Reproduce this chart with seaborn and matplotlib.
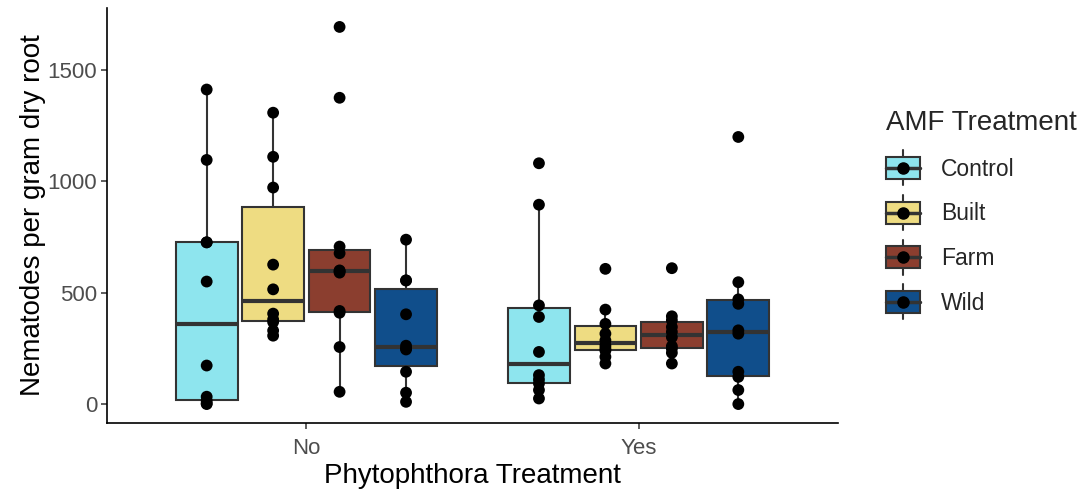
import matplotlib
matplotlib.use("Agg")
import matplotlib.pyplot as plt
import numpy as np
import pandas as pd
import seaborn as sns
from matplotlib.legend_handler import HandlerBase
from matplotlib.patches import Rectangle
from matplotlib.lines import Line2D

# nematode counts, one list per group
ctrl_no = [0, 3, 15, 33, 173, 550, 726, 726, 1096, 1412]
built_no = [307, 330, 368, 380, 406, 515, 626, 972, 1110, 1308]
farm_no = [55, 256, 410, 418, 590, 597, 600, 677, 707, 1375, 1693]
wild_no = [10, 51, 145, 245, 250, 262, 403, 555, 555, 738]
ctrl_yes = [25, 63, 92, 110, 130, 234, 391, 443, 895, 1081]
built_yes = [182, 212, 240, 249, 262, 286, 316, 360, 424, 607]
farm_yes = [182, 230, 249, 260, 300, 324, 346, 376, 394, 610]
wild_yes = [0, 63, 122, 145, 316, 331, 450, 470, 547, 1199]

phyto_levels = ["No", "Yes"]
amf_levels = ["Control", "Built", "Farm", "Wild"]
amf_colors = ["#8EE5EE", "#EEDC82", "#8B3E2F", "#104E8B"]

groups = {
    ("No", "Control"): ctrl_no, ("No", "Built"): built_no,
    ("No", "Farm"): farm_no, ("No", "Wild"): wild_no,
    ("Yes", "Control"): ctrl_yes, ("Yes", "Built"): built_yes,
    ("Yes", "Farm"): farm_yes, ("Yes", "Wild"): wild_yes,
}
rows = []
for (phy, amf), vals in groups.items():
    for v in vals:
        rows.append({"Phytophthora": phy, "AMF": amf, "Nematodes": v})
df = pd.DataFrame(rows)

sns.set_style("white")
plt.rcParams["font.family"] = ["Liberation Sans", "DejaVu Sans"]

fig = plt.figure(figsize=(10.84, 4.91), dpi=100)
ax = fig.add_axes([107 / 1084, 1 - 423 / 491, (838 - 107) / 1084, (423 - 8) / 491])

edge = "#333333"
sns.boxplot(data=df, x="Phytophthora", y="Nematodes", hue="AMF",
            order=phyto_levels, hue_order=amf_levels, palette=amf_colors,
            width=0.8, gap=0.07, showfliers=False, showcaps=False,
            linecolor=edge, linewidth=1.5, saturation=1,
            medianprops={"linewidth": 3, "color": edge},
            legend=False, ax=ax)
sns.stripplot(data=df, x="Phytophthora", y="Nematodes", hue="AMF",
              order=phyto_levels, hue_order=amf_levels,
              palette=["black"] * 4, jitter=False, dodge=True,
              size=8.5, linewidth=0, legend=False, ax=ax)

ax.set_xlim(-0.6, 1.6)
ax.set_ylim(-85, 1778)
ax.set_yticks([0, 500, 1000, 1500])
ax.set_xlabel("Phytophthora Treatment", fontsize=20, color="black", labelpad=3)
ax.set_ylabel("Nematodes per gram dry root", fontsize=20, color="black", labelpad=1)
ax.tick_params(axis="y", pad=3)
ax.tick_params(axis="x", pad=7)
ax.tick_params(axis="both", labelsize=16, labelcolor="#4D4D4D", color=edge,
               length=4, width=1.1, direction="out", left=True, bottom=True)
for side in ["top", "right"]:
    ax.spines[side].set_visible(False)
for side in ["left", "bottom"]:
    ax.spines[side].set_color("black")
    ax.spines[side].set_linewidth(1.2)


class BoxKey(HandlerBase):
    # little boxplot glyph with a dot, like the ggplot legend key
    def create_artists(self, legend, orig_handle, xdescent, ydescent,
                       width, height, fontsize, trans):
        x0 = -xdescent
        y0 = -ydescent
        cx = x0 + width / 2
        whisk = Line2D([cx, cx], [y0 - height * 0.3, y0 + height * 1.3],
                       color=edge, lw=1.5, transform=trans)
        box = Rectangle((x0, y0), width, height,
                        facecolor=orig_handle, edgecolor=edge, lw=1.5,
                        transform=trans)
        med = Line2D([x0, x0 + width], [y0 + height / 2] * 2,
                     color=edge, lw=2.5, transform=trans)
        dot = Line2D([cx], [y0 + height / 2], marker="o", color="black",
                     markersize=8, lw=0, transform=trans)
        return [whisk, box, med, dot]


handles = list(amf_colors)
leg = fig.legend(handles, amf_levels, handler_map={str: BoxKey()},
                 title="AMF Treatment", loc="upper left",
                 bbox_to_anchor=(886 / 1084, 1 - 110 / 491),
                 frameon=False, fontsize=16.5, title_fontsize=20,
                 handlelength=1.5, handleheight=1.1, labelspacing=0.91,
                 handletextpad=0.9, borderaxespad=0, borderpad=0)
leg._legend_box.align = "left"

fig.savefig("out.png", dpi=100)
